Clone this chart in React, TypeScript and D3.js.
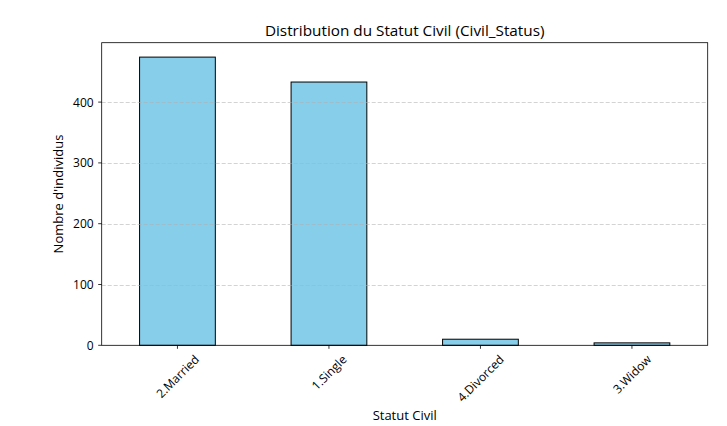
import React, { useEffect, useRef } from "react";
import * as d3 from "d3";

const categories = ["2.Married", "1.Single", "4.Divorced", "3.Widow"];
const counts = [474, 433, 10, 4];
const yTicks = [0, 100, 200, 300, 400];
const title = "Distribution du Statut Civil (Civil_Status)";
const xLabel = "Statut Civil";
const yLabel = "Nombre d'individus";

const W = 727;
const H = 426;
const M = { left: 101.7, right: 707.7, top: 42.7, bottom: 345.3 };
const FONT = "'Open Sans', sans-serif";
const TICK_FS = 12;
const LABEL_FS = 13;
const TITLE_FS = 15.3;

export default function App() {
  const ref = useRef<SVGSVGElement | null>(null);

  useEffect(() => {
    const svg = d3.select(ref.current);
    svg.selectAll("*").remove();

    const x = d3
      .scaleBand<string>()
      .domain(categories)
      .range([M.left, M.right])
      .paddingInner(0.5)
      .paddingOuter(0.25);
    const yMax = d3.max(counts)! * 1.05;
    const y = d3.scaleLinear().domain([0, yMax]).range([M.bottom, M.top]);

    svg.append("rect").attr("x", 0).attr("y", 0).attr("width", W).attr("height", H).attr("fill", "#fff");

    svg
      .append("g")
      .selectAll("rect")
      .data(categories)
      .join("rect")
      .attr("x", (d) => x(d)!)
      .attr("width", x.bandwidth())
      .attr("y", (d, i) => y(counts[i]))
      .attr("height", (d, i) => y(0) - y(counts[i]))
      .attr("fill", "#87CEEB")
      .attr("stroke", "#000")
      .attr("stroke-width", 1);

    svg
      .append("g")
      .selectAll("line")
      .data(yTicks.filter((t) => t > 0))
      .join("line")
      .attr("x1", M.left)
      .attr("x2", M.right)
      .attr("y1", (d) => Math.round(y(d)) + 0.5)
      .attr("y2", (d) => Math.round(y(d)) + 0.5)
      .attr("stroke", "#b0b0b0")
      .attr("stroke-opacity", 0.7)
      .attr("stroke-width", 0.8)
      .attr("stroke-dasharray", "4,2");

    svg
      .append("rect")
      .attr("x", M.left)
      .attr("y", M.top)
      .attr("width", M.right - M.left)
      .attr("height", M.bottom - M.top)
      .attr("fill", "none")
      .attr("stroke", "#000")
      .attr("stroke-width", 0.8);

    const yt = svg.append("g");
    yTicks.forEach((t) => {
      const yy = y(t);
      yt.append("line").attr("x1", M.left - 3.5).attr("x2", M.left).attr("y1", yy).attr("y2", yy).attr("stroke", "#000").attr("stroke-width", 0.8);
      yt.append("text")
        .attr("x", M.left - 8)
        .attr("y", yy)
        .attr("text-anchor", "end")
        .attr("dominant-baseline", "central")
        .attr("font-family", FONT)
        .attr("font-size", TICK_FS)
        .attr("fill", "#000")
        .text(String(t));
    });

    const xt = svg.append("g");
    categories.forEach((c) => {
      const cx = x(c)! + x.bandwidth() / 2;
      xt.append("line").attr("x1", cx).attr("x2", cx).attr("y1", M.bottom).attr("y2", M.bottom + 3.5).attr("stroke", "#000").attr("stroke-width", 0.8);
      const t = xt
        .append("text")
        .attr("text-anchor", "middle")
        .attr("dominant-baseline", "central")
        .attr("font-family", FONT)
        .attr("font-size", TICK_FS)
        .attr("fill", "#000")
        .text(c);
      const w = (t.node() as SVGTextElement).getComputedTextLength();
      const h = TICK_FS * 1.0;
      const half = (w + h) / (2 * Math.SQRT2);
      const cy = M.bottom + 7.5 + half;
      t.attr("x", cx).attr("y", cy).attr("transform", `rotate(-45,${cx},${cy})`);
    });

    svg
      .append("text")
      .attr("x", (M.left + M.right) / 2)
      .attr("y", 420)
      .attr("text-anchor", "middle")
      .attr("font-family", FONT)
      .attr("font-size", LABEL_FS)
      .attr("fill", "#000")
      .text(xLabel);

    const ylx = 63;
    const yly = (M.top + M.bottom) / 2;
    svg
      .append("text")
      .attr("x", ylx)
      .attr("y", yly)
      .attr("text-anchor", "middle")
      .attr("transform", `rotate(-90,${ylx},${yly})`)
      .attr("font-family", FONT)
      .attr("font-size", LABEL_FS)
      .attr("fill", "#000")
      .text(yLabel);

    svg
      .append("text")
      .attr("x", (M.left + M.right) / 2)
      .attr("y", 35.5)
      .attr("text-anchor", "middle")
      .attr("font-family", FONT)
      .attr("font-size", TITLE_FS)
      .attr("fill", "#000")
      .text(title);
  }, []);

  return (
    <svg
      ref={ref}
      width={W}
      height={H}
      style={{ position: "absolute", left: 0, top: 0, display: "block" }}
    />
  );
}
